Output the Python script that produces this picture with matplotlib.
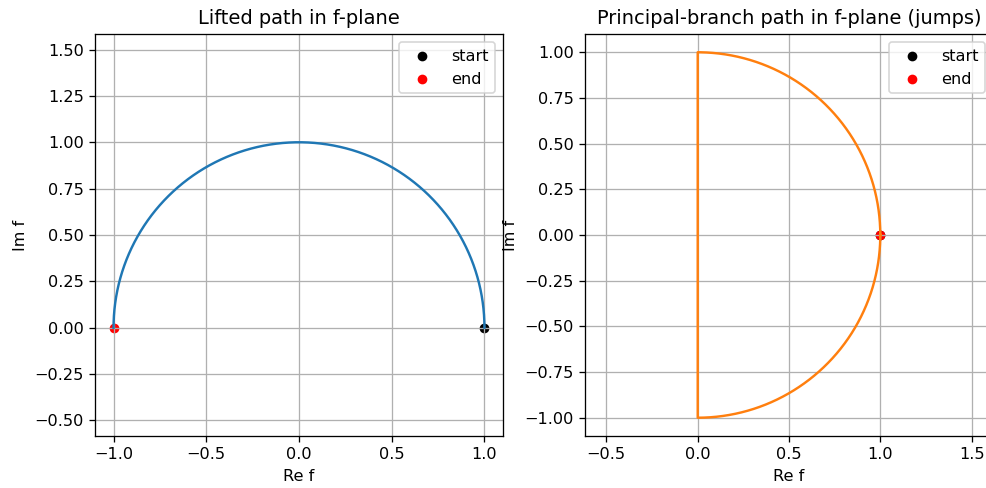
import numpy as np
import matplotlib.pyplot as plt

# path parameter: z = exp(i*theta) goes once around the unit circle
theta_start = 0.0
theta_end = 2 * np.pi
n_points = 2000

titles = ['Lifted path in f-plane', 'Principal-branch path in f-plane (jumps)']
line_colors = ['C0', 'C1']

theta = np.linspace(theta_start, theta_end, n_points)

# continuous lift of sqrt along the path
f_lift = np.exp(1j * theta / 2)
# principal branch sqrt (jumps across the branch cut at theta = pi)
f_principal = np.where(theta <= np.pi, np.exp(1j * theta / 2),
                       np.exp(1j * (theta - 2 * np.pi) / 2))

dpi = 116.5
fig = plt.figure(figsize=(986 / dpi, 488 / dpi), dpi=dpi)
W, H = 986, 488
ax1 = fig.add_axes([95 / W, 1 - 436 / H, 408 / W, 402 / H])
ax2 = fig.add_axes([585 / W, 1 - 436 / H, 408 / W, 402 / H])

for ax, f, title, color in zip([ax1, ax2], [f_lift, f_principal], titles, line_colors):
    ax.plot(f.real, f.imag, color=color)
    ax.scatter(f[0].real, f[0].imag, color='black', s=25, label='start')
    ax.scatter(f[-1].real, f[-1].imag, color='red', s=25, label='end')
    ax.set_title(title)
    ax.set_xlabel('Re f')
    ax.set_ylabel('Im f')
    ax.axis('equal')
    ax.grid(True)
    ax.legend(loc='upper right')

fig.savefig('out.png', dpi=dpi)
